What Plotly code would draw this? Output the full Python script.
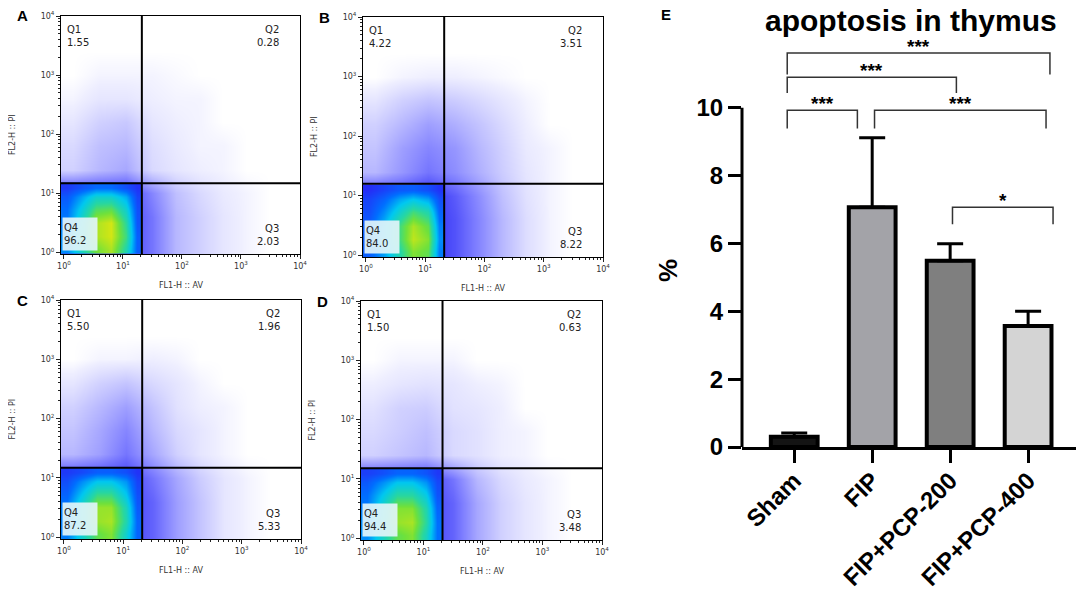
import numpy as np
import plotly.graph_objects as go

# ---- bar chart (panel E) ----
groups = ["Sham", "FIP", "FIP+PCP-200", "FIP+PCP-400"]
apoptosis_pct = [0.30, 7.07, 5.49, 3.57]
apoptosis_err = [0.11, 2.05, 0.50, 0.43]
bar_colors = ["#141414", "#a3a3a8", "#7f7f7f", "#d4d4d4"]

# significance brackets: left end, right end, top height, leg drop, label
sig_x0 = [-0.09, 1.03, -0.09, -0.09, 2.03]
sig_x1 = [0.81, 3.23, 2.08, 3.28, 3.32]
sig_top = [9.93, 9.93, 10.90, 11.62, 7.07]
sig_drop = [0.54, 0.54, 0.46, 0.64, 0.50]
sig_text = ["***", "***", "***", "***", "*"]

# ---- flow cytometry panels (A-D), density ----
# log10 units; FL1 = annexin V (x), FL2 = PI (y)
fl_x_centers = [0.15, 0.6, 1.05, 1.5, 1.9, 2.3, 2.7, 3.1, 3.5, 3.9]
fl_y_centers = [0.15, 0.6, 1.0, 1.4, 1.8, 2.2, 2.6, 3.0, 3.4, 3.85]
q4_x_centers = [0.05, 0.3, 0.55, 0.8, 1.05, 1.235]
q4_y_centers = [0.05, 0.27, 0.5, 0.73, 0.94, 1.1]

dens_A_outer = [
    [0.22, 0.22, 0.22, 0.16, 0.08, 0.05, 0.025, 0.01, 0, 0],
    [0.22, 0.22, 0.22, 0.16, 0.08, 0.05, 0.025, 0.01, 0, 0],
    [0.22, 0.22, 0.22, 0.14, 0.07, 0.04, 0.02, 0.01, 0, 0],
    [0.05, 0.08, 0.10, 0.04, 0.025, 0.015, 0.01, 0, 0, 0],
    [0.04, 0.07, 0.08, 0.035, 0.02, 0.01, 0.01, 0, 0, 0],
    [0.025, 0.05, 0.06, 0.025, 0.015, 0.01, 0, 0, 0, 0],
    [0.01, 0.025, 0.025, 0.015, 0.01, 0.01, 0, 0, 0, 0],
    [0, 0.01, 0.01, 0.01, 0.005, 0, 0, 0, 0, 0],
    [0, 0, 0, 0, 0, 0, 0, 0, 0, 0],
    [0, 0, 0, 0, 0, 0, 0, 0, 0, 0],
]
dens_A_q4 = [
    [0.42, 0.58, 0.72, 0.78, 0.60, 0.35],
    [0.42, 0.60, 0.78, 0.82, 0.65, 0.35],
    [0.40, 0.58, 0.78, 0.82, 0.62, 0.33],
    [0.38, 0.53, 0.68, 0.70, 0.55, 0.32],
    [0.34, 0.45, 0.55, 0.55, 0.46, 0.30],
    [0.28, 0.33, 0.37, 0.37, 0.32, 0.27],
]
dens_B_outer = [
    [0.22, 0.22, 0.24, 0.20, 0.14, 0.08, 0.035, 0.01, 0, 0],
    [0.22, 0.22, 0.24, 0.20, 0.14, 0.08, 0.035, 0.01, 0, 0],
    [0.22, 0.22, 0.24, 0.19, 0.13, 0.07, 0.03, 0.01, 0, 0],
    [0.08, 0.12, 0.16, 0.13, 0.09, 0.055, 0.025, 0.01, 0, 0],
    [0.065, 0.11, 0.14, 0.12, 0.08, 0.05, 0.02, 0.01, 0, 0],
    [0.05, 0.08, 0.11, 0.09, 0.065, 0.04, 0.015, 0, 0, 0],
    [0.025, 0.05, 0.065, 0.055, 0.04, 0.025, 0.01, 0, 0, 0],
    [0, 0.01, 0.015, 0.015, 0.01, 0.005, 0, 0, 0, 0],
    [0, 0, 0, 0, 0, 0, 0, 0, 0, 0],
    [0, 0, 0, 0, 0, 0, 0, 0, 0, 0],
]
dens_B_q4 = [
    [0.35, 0.45, 0.60, 0.74, 0.70, 0.40],
    [0.35, 0.48, 0.65, 0.80, 0.74, 0.42],
    [0.35, 0.48, 0.65, 0.78, 0.70, 0.40],
    [0.32, 0.42, 0.55, 0.66, 0.60, 0.36],
    [0.30, 0.36, 0.45, 0.50, 0.45, 0.32],
    [0.26, 0.30, 0.34, 0.35, 0.32, 0.27],
]
dens_C_outer = [
    [0.22, 0.22, 0.22, 0.18, 0.11, 0.065, 0.025, 0.01, 0, 0],
    [0.22, 0.22, 0.22, 0.18, 0.11, 0.065, 0.025, 0.01, 0, 0],
    [0.22, 0.22, 0.22, 0.16, 0.10, 0.055, 0.025, 0.01, 0, 0],
    [0.08, 0.11, 0.16, 0.10, 0.05, 0.025, 0.01, 0, 0, 0],
    [0.065, 0.10, 0.14, 0.08, 0.04, 0.025, 0.01, 0, 0, 0],
    [0.05, 0.08, 0.11, 0.065, 0.03, 0.015, 0.01, 0, 0, 0],
    [0.025, 0.05, 0.065, 0.04, 0.025, 0.01, 0, 0, 0, 0],
    [0, 0.01, 0.01, 0.015, 0.01, 0, 0, 0, 0, 0],
    [0, 0, 0, 0, 0, 0, 0, 0, 0, 0],
    [0, 0, 0, 0, 0, 0, 0, 0, 0, 0],
]
dens_C_q4 = [
    [0.40, 0.55, 0.70, 0.74, 0.55, 0.36],
    [0.40, 0.58, 0.76, 0.78, 0.60, 0.36],
    [0.40, 0.58, 0.76, 0.76, 0.58, 0.34],
    [0.36, 0.50, 0.64, 0.64, 0.50, 0.32],
    [0.32, 0.42, 0.50, 0.50, 0.43, 0.30],
    [0.28, 0.31, 0.35, 0.35, 0.32, 0.27],
]
dens_D_outer = [
    [0.22, 0.22, 0.22, 0.18, 0.10, 0.05, 0.025, 0.01, 0, 0],
    [0.22, 0.22, 0.22, 0.18, 0.10, 0.05, 0.025, 0.01, 0, 0],
    [0.22, 0.22, 0.22, 0.16, 0.08, 0.04, 0.02, 0.01, 0, 0],
    [0.05, 0.065, 0.08, 0.04, 0.03, 0.015, 0.01, 0, 0, 0],
    [0.04, 0.055, 0.07, 0.04, 0.03, 0.015, 0.01, 0, 0, 0],
    [0.03, 0.05, 0.055, 0.03, 0.025, 0.015, 0, 0, 0, 0],
    [0.015, 0.025, 0.03, 0.025, 0.015, 0.01, 0, 0, 0, 0],
    [0, 0.01, 0.01, 0.01, 0, 0, 0, 0, 0, 0],
    [0, 0, 0, 0, 0, 0, 0, 0, 0, 0],
    [0, 0, 0, 0, 0, 0, 0, 0, 0, 0],
]
dens_D_q4 = [
    [0.42, 0.56, 0.70, 0.74, 0.58, 0.38],
    [0.42, 0.58, 0.76, 0.78, 0.62, 0.38],
    [0.40, 0.56, 0.74, 0.74, 0.60, 0.36],
    [0.38, 0.50, 0.62, 0.62, 0.52, 0.33],
    [0.34, 0.42, 0.50, 0.50, 0.43, 0.31],
    [0.29, 0.32, 0.36, 0.36, 0.33, 0.28],
]

# quadrant percentages Q1, Q2, Q3, Q4
quad_A = ["1.55", "0.28", "2.03", "96.2"]
quad_B = ["4.22", "3.51", "8.22", "84.0"]
quad_C = ["5.50", "1.96", "5.33", "87.2"]
quad_D = ["1.50", "0.63", "3.48", "94.4"]

gate_fl1 = [1.32, 1.32, 1.32, 1.32]
gate_fl2 = [1.17, 1.20, 1.17, 1.18]

decade_labels = ["10<sup>0</sup>", "10<sup>1</sup>", "10<sup>2</sup>", "10<sup>3</sup>", "10<sup>4</sup>"]

flow_cmap = [
    [0.0, "rgb(255,255,255)"], [0.015, "rgb(238,238,255)"], [0.06, "rgb(200,200,255)"],
    [0.15, "rgb(125,125,255)"], [0.25, "rgb(40,40,245)"], [0.38, "rgb(0,110,255)"],
    [0.5, "rgb(0,200,240)"], [0.62, "rgb(40,215,160)"], [0.72, "rgb(110,225,60)"],
    [0.82, "rgb(210,230,20)"], [0.9, "rgb(255,220,0)"], [1.0, "rgb(255,40,0)"],
]

# the page body has an 8px margin, so the figure is laid out in page pixels minus 8
OFF = 8
W, H = 1084 - OFF, 594 - OFF


def px(x):
    return (x - OFF) / W


def py(y):
    return 1 - (y - OFF) / H


panels = [
    dict(letter="A", box=(61, 300, 16, 254), outer=dens_A_outer, q4=dens_A_q4, quad=quad_A),
    dict(letter="B", box=(363, 603, 17, 257), outer=dens_B_outer, q4=dens_B_q4, quad=quad_B),
    dict(letter="C", box=(61, 301, 300, 539), outer=dens_C_outer, q4=dens_C_q4, quad=quad_C),
    dict(letter="D", box=(361, 602, 301, 540), outer=dens_D_outer, q4=dens_D_q4, quad=quad_D),
]

minor_vals = [d + np.log10(k) for d in range(4) for k in range(2, 10)]
flow_font = dict(family="DejaVu Sans", size=8, color="#333")
bold = dict(family="Liberation Sans", weight="bold", color="black")

fig = go.Figure()
annotations = []
shapes = []
axes = {}

for i, p in enumerate(panels):
    sfx = "" if i == 0 else str(i + 1)
    xa, ya = "x" + sfx, "y" + sfx
    left, right, top, bottom = p["box"]
    fig.add_trace(go.Heatmap(
        z=p["outer"], x=fl_x_centers, y=fl_y_centers, zmin=0, zmax=1,
        colorscale=flow_cmap, zsmooth="best", showscale=False, hoverinfo="skip",
        xaxis=xa, yaxis=ya))
    fig.add_trace(go.Heatmap(
        z=p["q4"], x=q4_x_centers, y=q4_y_centers, zmin=0, zmax=1,
        colorscale=flow_cmap, zsmooth="best", showscale=False, hoverinfo="skip",
        xaxis=xa, yaxis=ya))

    common = dict(
        tickmode="array", tickvals=[0, 1, 2, 3, 4], ticktext=decade_labels,
        ticks="outside", ticklen=4, tickwidth=1, tickcolor="#222",
        minor=dict(tickmode="array", tickvals=minor_vals, ticks="outside", ticklen=2, tickcolor="#222"),
        showline=True, mirror=True, linecolor="black", linewidth=1, automargin=False,
        showgrid=False, zeroline=False, tickfont=flow_font)
    axes["xaxis" + sfx] = dict(common, domain=[px(left), px(right)], anchor=ya, range=[-0.05, 4.0])
    axes["yaxis" + sfx] = dict(common, domain=[py(bottom), py(top)], anchor=xa, range=[-0.03, 4.0])

    # gates
    shapes.append(dict(type="line", xref=xa, yref=ya + " domain", x0=gate_fl1[i], x1=gate_fl1[i],
                       y0=0, y1=1, line=dict(color="black", width=2)))
    shapes.append(dict(type="line", xref=xa + " domain", yref=ya, x0=0, x1=1,
                       y0=gate_fl2[i], y1=gate_fl2[i], line=dict(color="black", width=2)))

    q = p["quad"]
    qf = dict(family="DejaVu Sans", size=10, color="#222")
    annotations += [
        dict(xref=xa + " domain", yref=ya + " domain", x=0.015, y=0.975, xanchor="left", yanchor="top",
             text="Q1<br>" + q[0], align="left", showarrow=False, font=qf),
        dict(xref=xa + " domain", yref=ya + " domain", x=0.92, y=0.975, xanchor="right", yanchor="top",
             text="Q2<br>" + q[1], align="right", showarrow=False, font=qf),
        dict(xref=xa + " domain", yref=ya + " domain", x=0.92, y=0.02, xanchor="right", yanchor="bottom",
             text="Q3<br>" + q[2], align="right", showarrow=False, font=qf),
        dict(xref=xa + " domain", yref=ya + " domain", x=0.004, y=0.012, xanchor="left", yanchor="bottom",
             text="Q4<br>" + q[3], align="left", showarrow=False, font=qf,
             bgcolor="rgba(226,244,248,0.92)", width=32, height=30, borderpad=1),
        dict(xref=xa + " domain", yref="paper", x=0.5, y=py(bottom + 31), xanchor="center",
             yanchor="middle", text="FL1-H :: AV", showarrow=False, font=flow_font),
        dict(xref="paper", yref=ya + " domain", x=px(left - 49), y=0.5, xanchor="center",
             yanchor="middle", text="FL2-H :: PI", textangle=-90, showarrow=False, font=flow_font),
        dict(xref="paper", yref="paper", x=px(left - 46), y=py(top),
             xanchor="left", yanchor="middle", text=p["letter"], showarrow=False,
             font=dict(bold, size=15)),
    ]

# ---- panel E ----
fig.add_trace(go.Bar(
    x=groups, y=apoptosis_pct, width=0.6,
    marker=dict(color=bar_colors, line=dict(color="black", width=4)),
    error_y=dict(type="data", array=apoptosis_err, arrayminus=[0] * len(groups),
                 symmetric=False, color="black", thickness=3, width=13),
    xaxis="x5", yaxis="y5", showlegend=False))

axes["xaxis5"] = dict(
    domain=[px(742), px(1078)], anchor="y5", range=[-0.67, 3.64], automargin=False,
    showline=True, linewidth=3, linecolor="black", ticks="outside", ticklen=13,
    tickwidth=3, tickcolor="black", tickangle=-45, showgrid=False, ticklabelstandoff=-6,
    tickfont=dict(bold, size=24))
axes["yaxis5"] = dict(
    domain=[py(447), py(40)], anchor="x5", range=[0, 12.0], tickvals=[0, 2, 4, 6, 8, 10],
    ticks="outside", ticklen=13, tickwidth=3, tickcolor="black", showline=False, automargin=False,
    showgrid=False, zeroline=False, tickfont=dict(bold, size=24))

shapes.append(dict(type="line", xref="x5 domain", yref="y5", x0=0, x1=0, y0=0, y1=10,
                   line=dict(color="black", width=3)))

for x0, x1, top, drop, txt in zip(sig_x0, sig_x1, sig_top, sig_drop, sig_text):
    shapes.append(dict(type="path", xref="x5", yref="y5",
                       path=f"M {x0},{top - drop} L {x0},{top} L {x1},{top} L {x1},{top - drop}",
                       line=dict(color="#333", width=1.5)))
    annotations.append(dict(xref="x5", yref="y5", x=(x0 + x1) / 2, y=top, xanchor="center",
                            yanchor="bottom", yshift=-6, text=txt, showarrow=False,
                            font=dict(bold, size=19)))

annotations += [
    dict(xref="paper", yref="paper", x=px(911), y=py(21), xanchor="center", yanchor="middle",
         text="apoptosis in thymus", showarrow=False, font=dict(bold, size=30)),
    dict(xref="paper", yref="paper", x=px(668), y=py(271), xanchor="center", yanchor="middle",
         text="%", textangle=-90, showarrow=False, font=dict(bold, size=26)),
    dict(xref="paper", yref="paper", x=px(659), y=py(15), xanchor="left", yanchor="middle",
         text="E", showarrow=False, font=dict(bold, size=15)),
]

fig.update_layout(
    width=W, height=H, margin=dict(l=0, r=0, t=0, b=0),
    paper_bgcolor="white", plot_bgcolor="white", showlegend=False,
    annotations=annotations, shapes=shapes, **axes)

fig.write_html("out.html")
